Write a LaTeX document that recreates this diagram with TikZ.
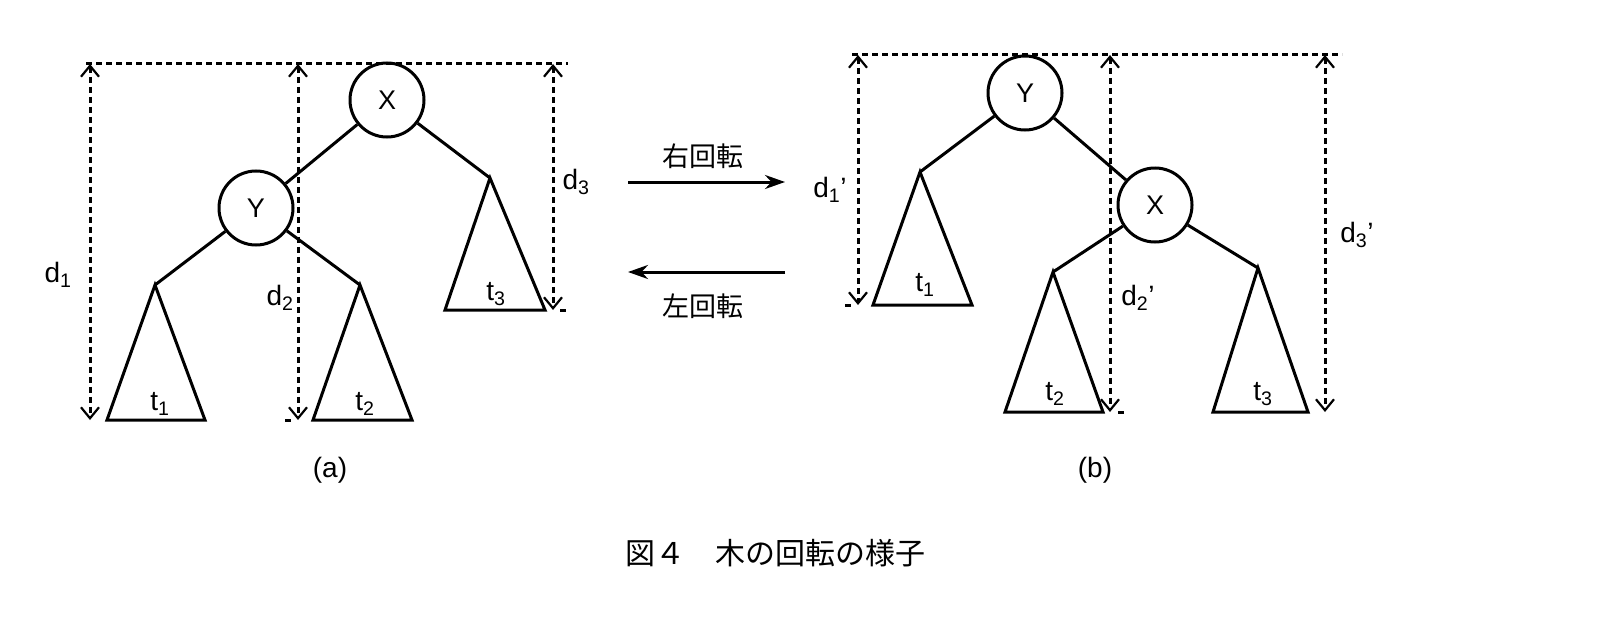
\documentclass[tikz,border=0pt]{standalone}
\usepackage{fontspec}
\setmainfont{Liberation Sans}
\newfontfamily\cjk{Noto Sans CJK JP}
\usetikzlibrary{arrows.meta}
\newcommand{\sbs}[1]{\textsubscript{#1}}
\begin{document}
\begin{tikzpicture}[x=1pt,y=-1pt,
  dim/.style={line width=3pt,dash pattern=on 6pt off 4pt,{Straight Barb[length=11pt,width=18pt,line width=2.2pt]}-{Straight Barb[length=11pt,width=18pt,line width=2.2pt]}},
  guide/.style={line width=3pt,dash pattern=on 6pt off 4pt},
  edge/.style={line width=3pt},
  circ/.style={circle,draw,line width=3pt,minimum size=74pt,inner sep=0pt,font=\fontsize{27}{29}\selectfont},
  lab/.style={font=\fontsize{28}{30}\selectfont},
  mid/.style={line width=3pt,-{Stealth[length=20pt,width=14pt]}}]
\useasboundingbox (0,0) rectangle (1622,618);
% (a)
\coordinate (aT1) at (86,64); \coordinate (aT2) at (568,64);
\draw[guide] (aT1) -- (aT2);
\node[circ] (aX) at (387,100) {X};
\node[circ] (aY) at (256,208) {Y};
\coordinate (a1) at (155,285); \coordinate (a2) at (360,285); \coordinate (a3) at (490,178);
\draw[edge] (aX) -- (aY); \draw[edge] (aX) -- (a3);
\draw[edge] (aY) -- (a1); \draw[edge] (aY) -- (a2);
\draw[edge] (a1) -- (107,420) -- (205,420) -- cycle;
\draw[edge] (a2) -- (313,420) -- (412,420) -- cycle;
\draw[edge] (a3) -- (445,310) -- (545,310) -- cycle;
\coordinate (ad1t) at (90,64); \coordinate (ad1b) at (90,420);
\coordinate (ad2t) at (298,64); \coordinate (ad2b) at (298,420);
\coordinate (ad3t) at (553,64); \coordinate (ad3b) at (553,310);
\draw[dim] (ad1t) -- (ad1b); \draw[dim] (ad2t) -- (ad2b); \draw[dim] (ad3t) -- (ad3b);
\draw[guide] (285,420) -- (292,420); \draw[guide] (560,310) -- (568,310);
\node[lab] (ld1) at (58,275) {d\sbs{1}};
\node[lab] (ld2) at (280,298) {d\sbs{2}};
\node[lab] (ld3) at (576,182) {d\sbs{3}};
\node[lab] (lt1) at (160,404) {t\sbs{1}};
\node[lab] (lt2) at (365,404) {t\sbs{2}};
\node[lab] (lt3) at (496,294) {t\sbs{3}};
\node[lab] (la) at (330,470) {(a)};
% middle
\coordinate (m1) at (628,182); \coordinate (m2) at (785,182);
\coordinate (m3) at (785,272); \coordinate (m4) at (628,272);
\draw[mid] (m1) -- (m2); \draw[mid] (m3) -- (m4);
\node[font=\cjk\fontsize{27}{29}\selectfont] (r) at (703,156) {右回転};
\node[font=\cjk\fontsize{27}{29}\selectfont] (l) at (703,306) {左回転};
% (b)
\draw[guide] (852,55) -- (1342,55);
\node[circ] (bY) at (1025,93) {Y};
\node[circ] (bX) at (1155,205) {X};
\coordinate (b1) at (920,172); \coordinate (b2) at (1053,272); \coordinate (b3) at (1258,268);
\draw[edge] (bY) -- (b1); \draw[edge] (bY) -- (bX);
\draw[edge] (bX) -- (b2); \draw[edge] (bX) -- (b3);
\draw[edge] (b1) -- (873,305) -- (972,305) -- cycle;
\draw[edge] (b2) -- (1005,412) -- (1103,412) -- cycle;
\draw[edge] (b3) -- (1213,412) -- (1308,412) -- cycle;
\coordinate (bd1t) at (858,55); \coordinate (bd1b) at (858,305);
\coordinate (bd2t) at (1110,55); \coordinate (bd2b) at (1110,412);
\coordinate (bd3t) at (1325,55); \coordinate (bd3b) at (1325,412);
\draw[dim] (bd1t) -- (bd1b); \draw[dim] (bd2t) -- (bd2b); \draw[dim] (bd3t) -- (bd3b);
\draw[guide] (845,305) -- (851,305); \draw[guide] (1118,412) -- (1126,412);
\node[lab] (le1) at (830,190) {d\sbs{1}’};
\node[lab] (le2) at (1138,298) {d\sbs{2}’};
\node[lab] (le3) at (1357,235) {d\sbs{3}’};
\node[lab] (lu1) at (925,285) {t\sbs{1}};
\node[lab] (lu2) at (1055,394) {t\sbs{2}};
\node[lab] (lu3) at (1263,394) {t\sbs{3}};
\node[lab] (lb) at (1095,470) {(b)};
\node[font=\cjk\fontsize{30}{32}\selectfont] (cap) at (775,553) {図４　木の回転の様子};
\end{tikzpicture}
\end{document}
